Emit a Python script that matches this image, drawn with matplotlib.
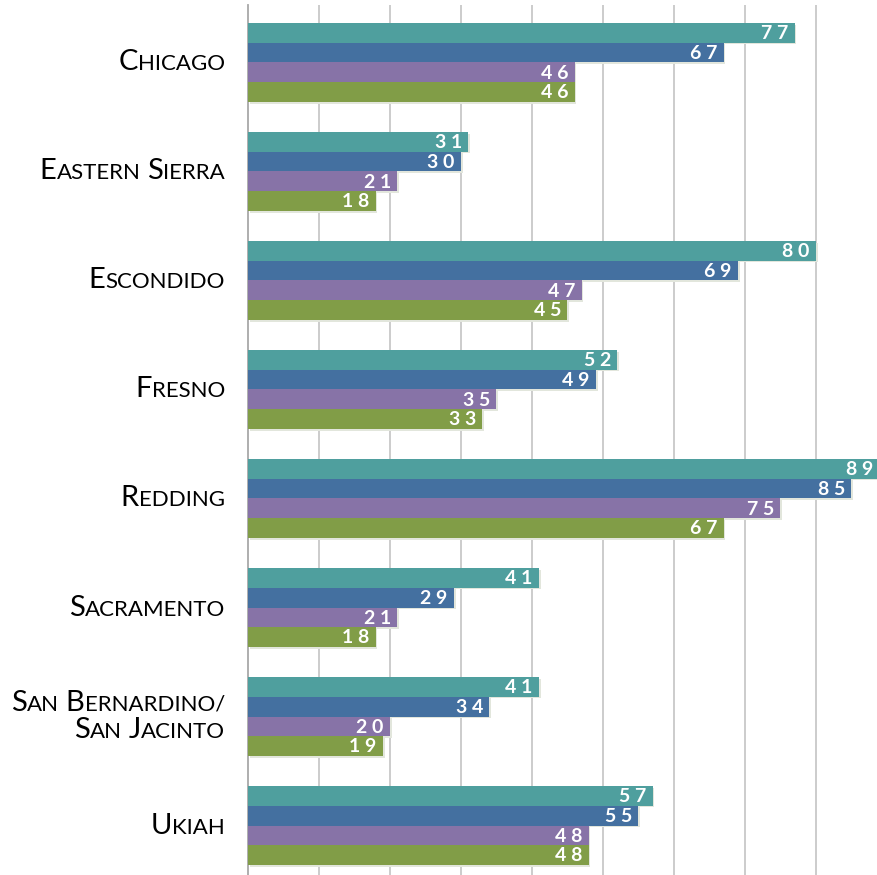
import numpy as np
import matplotlib
matplotlib.use('Agg')
import matplotlib.pyplot as plt
import matplotlib.patheffects as pe
from matplotlib.offsetbox import TextArea, HPacker, VPacker, DrawingArea, AnnotationBbox

plt.rcParams['font.family'] = ['Lato', 'DejaVu Sans']

# 数据
cities = [['Chicago'], ['Eastern Sierra'], ['Escondido'], ['Fresno'], ['Redding'],
          ['Sacramento'], ['San Bernardino/', 'San Jacinto'], ['Ukiah']]
series_1 = [77, 31, 80, 52, 89, 41, 41, 57]
series_2 = [67, 30, 69, 49, 85, 29, 34, 55]
series_3 = [46, 21, 47, 35, 75, 21, 20, 48]
series_4 = [46, 18, 45, 33, 67, 18, 19, 48]
colors = ['#4F9F9E', '#4470A0', '#8773A7', '#819D47']

fig = plt.figure(figsize=(8.77, 8.75), dpi=100, facecolor='white')
W, H = 877, 875
ax = fig.add_axes([248 / W, 0, 1 - 248 / W, (H - 5) / H])

y = np.arange(len(cities))
bh = 0.181
shadow = [pe.SimplePatchShadow(offset=(1.2, -1.2), shadow_rgbFace='#e2e6dc', alpha=1), pe.Normal()]
for k, (vals, c) in enumerate(zip([series_1, series_2, series_3, series_4], colors)):
    yy = y + (k - 1.5) * bh
    bars = ax.barh(yy, vals, height=bh, color=c, zorder=3)
    for b in bars:
        b.set_path_effects(shadow)
    for v, yv in zip(vals, yy):
        ax.annotate(' '.join(str(v)), xy=(v, yv), xytext=(-4.5, -0.5), textcoords='offset points',
                    ha='right', va='center', color='white', fontsize=14, fontweight='bold',
                    zorder=4, annotation_clip=False)

ax.set_xlim(0, 629 / 7.1)
ax.set_ylim((H - 62.5) / 109, (5 - 62.5) / 109)
ax.set_xticks(np.arange(10, 90, 10))
ax.set_xticklabels([])
ax.set_yticks([])
ax.tick_params(axis='x', length=0)
ax.grid(axis='x', color='#C8C8C8', linewidth=1.3, zorder=0)
for s in ['top', 'right', 'bottom']:
    ax.spines[s].set_visible(False)
ax.spines['left'].set_color('#A8A8A8')
ax.spines['left'].set_linewidth(1.3)


# 小型大写字母标签
def sc_line(text):
    parts = []
    for i, word in enumerate(text.split(' ')):
        if i > 0:
            parts.append(DrawingArea(5, 0))
        parts.append(TextArea(word[0], textprops=dict(fontsize=21, color='black')))
        if len(word) > 1:
            parts.append(TextArea(word[1:].upper(), textprops=dict(fontsize=16, color='black')))
    return HPacker(children=parts, align='baseline', pad=0, sep=0)


for i, lines in enumerate(cities):
    rows = [sc_line(t) for t in lines]
    box = rows[0] if len(rows) == 1 else VPacker(children=rows, align='right', pad=0, sep=1)
    ab = AnnotationBbox(box, (-23 / 629, i), xycoords=('axes fraction', 'data'),
                        box_alignment=(1, 0.5), frameon=False, pad=0, annotation_clip=False)
    ax.add_artist(ab)

fig.savefig('out.png', dpi=100, facecolor='white')
